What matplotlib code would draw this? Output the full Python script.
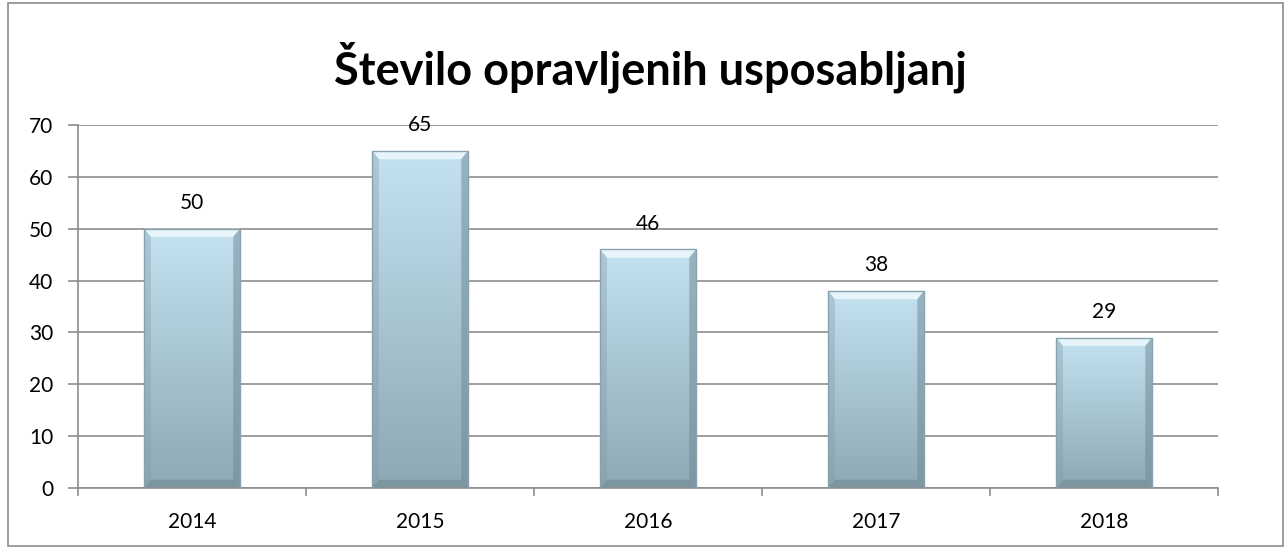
import matplotlib.pyplot as plt
import numpy as np
from matplotlib.patches import Rectangle, Polygon
from matplotlib.colors import LinearSegmentedColormap

years = ['2014', '2015', '2016', '2017', '2018']
values = [50, 65, 46, 38, 29]

plt.rcParams['font.family'] = ['Lato', 'DejaVu Sans']

fig = plt.figure(figsize=(12.86, 5.48), dpi=100)
ax = fig.add_axes([0.0607, 0.1095, 0.8865, 0.6625])

x = np.arange(len(years))
bar_width = 0.42
bars = ax.bar(x, values, bar_width, color='none', edgecolor='#8aa2ad', linewidth=1.0, zorder=3)

# gradient fill, light blue at top going darker grey-blue at the bottom
cmap = LinearSegmentedColormap.from_list('bar', ['#8ea8b4', '#a8c5d2', '#c4e2f1'])
grad = np.linspace(0, 1, 256).reshape(-1, 1)
for b in bars:
    x0, w, h = b.get_x(), b.get_width(), b.get_height()
    im = ax.imshow(grad, cmap=cmap, origin='lower', aspect='auto',
                   extent=[x0, x0 + w, 0, h], zorder=2)
    im.set_clip_path(b)
    # bevel: light top, darker sides and bottom
    bw = w * 0.07
    bh = 1.6
    ax.add_patch(Polygon([(x0, h), (x0 + w, h), (x0 + w - bw, h - bh), (x0 + bw, h - bh)],
                         closed=True, color='#eef9fd', alpha=0.85, zorder=2.5, lw=0))
    ax.add_patch(Polygon([(x0, 0), (x0 + bw, bh), (x0 + bw, h - bh), (x0, h)],
                         closed=True, color='#7f99a5', alpha=0.35, zorder=2.5, lw=0))
    ax.add_patch(Polygon([(x0 + w, 0), (x0 + w - bw, bh), (x0 + w - bw, h - bh), (x0 + w, h)],
                         closed=True, color='#6d8692', alpha=0.5, zorder=2.5, lw=0))
    ax.add_patch(Polygon([(x0, 0), (x0 + w, 0), (x0 + w - bw, bh), (x0 + bw, bh)],
                         closed=True, color='#6d8692', alpha=0.55, zorder=2.5, lw=0))

for xi, v in zip(x, values):
    ax.text(xi, v + 4.9, str(v), ha='center', va='center', fontsize=15, color='black')

ax.set_xlim(-0.5, len(years) - 0.5)
ax.set_ylim(0, 70)
ax.set_yticks(range(0, 71, 10))
ax.yaxis.grid(True, color='#8c8c8c', linewidth=1.2, zorder=0)
ax.set_axisbelow(True)

ax.set_xticks(x)
ax.set_xticklabels(years, fontsize=15)
ax.set_xticks(np.arange(-0.5, len(years), 1), minor=True)
ax.tick_params(axis='x', which='major', length=0, pad=17)
ax.tick_params(axis='x', which='minor', length=6, color='#8c8c8c', width=1.2)
ax.tick_params(axis='y', labelsize=15, length=7, color='#8c8c8c', width=1.2, pad=11)

for s in ['top', 'right']:
    ax.spines[s].set_visible(False)
for s in ['left', 'bottom']:
    ax.spines[s].set_color('#8c8c8c')
    ax.spines[s].set_linewidth(1.2)

fig.text(0.506, 0.878, 'Število opravljenih usposabljanj', ha='center', va='center',
         fontsize=32.5, fontweight='bold')

fig.patches.append(Rectangle((0.006, 0.004), 0.992, 0.99, transform=fig.transFigure,
                             fill=False, edgecolor='#8c8c8c', linewidth=1.2))

fig.savefig('out.png', dpi=100)
